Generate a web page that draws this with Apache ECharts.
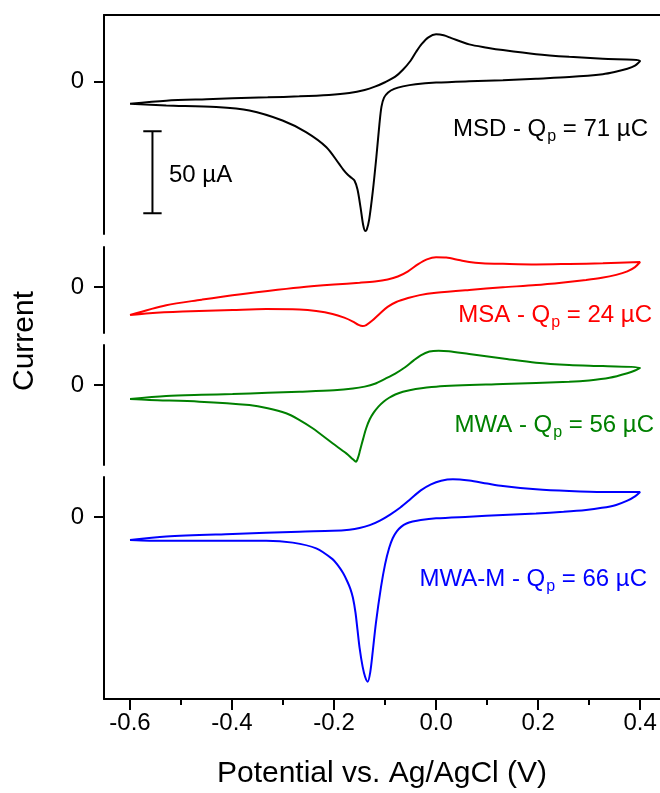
<!DOCTYPE html>
<html>
<head>
<meta charset="utf-8">
<style>
  html, body { margin: 0; padding: 0; background: #fff; }
  #chart { width: 660px; height: 793px; }
</style>
<script src="https://cdn.jsdelivr.net/npm/echarts@6/dist/echarts.min.js"></script>
</head>
<body>
<div id="chart"></div>
<script>
// potential (V) vs current (uA); forward = anodic sweep, reverse = cathodic sweep
const msdForward = [[-0.600, -13.7], [-0.529, -11.8], [-0.450, -10.9], [-0.399, -10.4], [-0.330, -9.8], [-0.268, -9.2],
  [-0.210, -8.3], [-0.170, -7.1], [-0.140, -5.3], [-0.120, -3.3], [-0.100, -0.6], [-0.080, 2.8], [-0.065, 7.0],
  [-0.050, 12.5], [-0.039, 18.0], [-0.028, 22.8], [-0.015, 26.8], [0.000, 28.6], [0.015, 28.0], [0.030, 26.3],
  [0.065, 22.5], [0.100, 20.5], [0.131, 19.0], [0.196, 16.5], [0.261, 14.9], [0.327, 13.7], [0.400, 12.4]]
const msdReverse = [[0.390, 9.5], [0.375, 7.6], [0.350, 5.6], [0.327, 4.3], [0.261, 2.6], [0.196, 1.6], [0.131, 0.6],
  [0.065, 0.0], [0.000, -0.8], [-0.040, -1.8], [-0.065, -3.1], [-0.082, -4.6], [-0.094, -6.8], [-0.102, -10.0],
  [-0.107, -15.5], [-0.111, -26.0], [-0.117, -46.0], [-0.124, -67.0], [-0.131, -84.0], [-0.136, -90.5],
  [-0.139, -91.3], [-0.143, -87.5], [-0.148, -77.0], [-0.154, -66.0], [-0.160, -60.5], [-0.166, -58.8],
  [-0.173, -57.0], [-0.182, -53.8], [-0.190, -50.4], [-0.215, -40.2], [-0.255, -31.0], [-0.301, -23.9],
  [-0.366, -17.8], [-0.431, -15.7], [-0.529, -14.7], [-0.600, -13.7]]

const msaForward = [[-0.600, -17.2], [-0.529, -11.2], [-0.460, -7.8], [-0.399, -5.0], [-0.330, -2.4], [-0.268, -0.3],
  [-0.200, 1.5], [-0.150, 2.6], [-0.120, 3.4], [-0.095, 4.6], [-0.075, 6.4], [-0.055, 9.6], [-0.035, 14.0],
  [-0.018, 16.9], [0.000, 18.2], [0.020, 18.0], [0.045, 16.5], [0.065, 15.3], [0.090, 14.6], [0.131, 14.2],
  [0.196, 13.8], [0.261, 14.1], [0.327, 14.5], [0.400, 15.3]]
const msaReverse = [[0.390, 12.2], [0.375, 9.6], [0.353, 7.4], [0.325, 5.6], [0.294, 4.3], [0.250, 2.8], [0.196, 1.2],
  [0.131, -0.2], [0.065, -1.8], [0.000, -3.6], [-0.032, -5.0], [-0.055, -6.8], [-0.078, -9.2], [-0.095, -12.2],
  [-0.110, -16.2], [-0.125, -20.6], [-0.137, -23.3], [-0.144, -23.9], [-0.152, -23.2], [-0.163, -21.2],
  [-0.180, -18.8], [-0.203, -16.5], [-0.235, -14.7], [-0.268, -13.8], [-0.333, -13.5], [-0.399, -14.1],
  [-0.497, -15.1], [-0.562, -16.1], [-0.600, -17.2]]

const mwaForward = [[-0.600, -8.6], [-0.529, -6.8], [-0.460, -6.0], [-0.399, -5.5], [-0.330, -4.8], [-0.268, -4.1],
  [-0.200, -3.2], [-0.163, -2.2], [-0.140, -1.0], [-0.120, 0.8], [-0.100, 3.8], [-0.080, 7.0], [-0.060, 11.0],
  [-0.045, 14.8], [-0.030, 18.2], [-0.013, 20.5], [0.005, 21.0], [0.025, 20.7], [0.065, 19.0], [0.131, 16.3],
  [0.196, 13.7], [0.261, 12.3], [0.327, 11.6], [0.400, 10.6]]
const mwaReverse = [[0.390, 8.9], [0.375, 7.2], [0.340, 4.4], [0.300, 2.8], [0.261, 2.0], [0.131, 0.6], [0.000, -1.0],
  [-0.040, -2.4], [-0.065, -4.1], [-0.080, -5.8], [-0.092, -7.8], [-0.103, -10.2], [-0.113, -13.2], [-0.122, -16.8],
  [-0.130, -21.0], [-0.137, -26.5], [-0.143, -33.0], [-0.149, -40.0], [-0.153, -44.5], [-0.157, -47.0],
  [-0.163, -45.5], [-0.176, -41.9], [-0.203, -35.7], [-0.242, -26.5], [-0.270, -21.0], [-0.294, -17.3],
  [-0.330, -14.2], [-0.366, -12.3], [-0.464, -10.2], [-0.562, -9.2], [-0.600, -8.6]]

const mwamForward = [[-0.600, -14.1], [-0.529, -12.0], [-0.399, -10.4], [-0.268, -9.0], [-0.203, -8.5], [-0.170, -7.8],
  [-0.150, -6.8], [-0.130, -5.0], [-0.110, -2.2], [-0.090, 1.5], [-0.070, 5.8], [-0.050, 11.0], [-0.030, 16.3],
  [-0.010, 20.0], [0.010, 22.2], [0.033, 23.1], [0.065, 22.3], [0.100, 20.5], [0.131, 19.0], [0.196, 17.0],
  [0.261, 15.9], [0.327, 15.3], [0.400, 15.3]]
const mwamReverse = [[0.390, 12.6], [0.375, 10.0], [0.353, 7.4], [0.325, 5.6], [0.294, 4.3], [0.250, 3.2], [0.196, 2.2],
  [0.131, 1.2], [0.065, 0.2], [0.000, -0.8], [-0.030, -1.8], [-0.046, -2.8], [-0.058, -4.0], [-0.068, -5.9],
  [-0.077, -8.8], [-0.085, -13.0], [-0.092, -19.0], [-0.100, -29.0], [-0.108, -43.0], [-0.118, -65.1],
  [-0.124, -82.0], [-0.129, -95.0], [-0.134, -100.9], [-0.139, -98.0], [-0.144, -91.7], [-0.150, -80.0],
  [-0.154, -69.2], [-0.158, -58.5], [-0.163, -49.5], [-0.168, -44.0], [-0.174, -39.5], [-0.182, -34.5],
  [-0.192, -29.8], [-0.203, -25.8], [-0.235, -19.2], [-0.281, -15.7], [-0.333, -14.5], [-0.464, -14.5],
  [-0.562, -14.5], [-0.600, -14.1]]

// 50 uA scale bar (caps + stem), in data units of the top panel
const scaleBar = [[-0.574, -30.5], [-0.538, -30.5], [-0.556, -30.5], [-0.556, -80.5], [-0.574, -80.5], [-0.538, -80.5]]

const sampleNames = ['MSD', 'MSA', 'MWA', 'MWA-M']
const chargeValues = [71, 24, 56, 66]
const currentRanges = [[-93.1, 40.4], [-28.2, 24.5], [-49.0, 24.5], [-111.5, 24.5]]
const xMajorTicks = [-0.6, -0.4, -0.2, 0, 0.2, 0.4]
const xMinorTicks = [-0.5, -0.3, -0.1, 0.1, 0.3]
const xRange = [-0.651, 0.439]

const FONT = '"Liberation Sans", Arial, sans-serif'
const colors = ['#000000', '#ff0000', '#008000', '#0000ff']
const curves = [
  msdForward.concat(msdReverse),
  msaForward.concat(msaReverse),
  mwaForward.concat(mwaReverse),
  mwamForward.concat(mwamReverse)
]

// panel boxes (px)
const grids = [
  { left: 104, right: 0, top: 15, height: 219 },
  { left: 104, right: 0, top: 247, height: 86 },
  { left: 104, right: 0, top: 345, height: 120 },
  { left: 104, right: 0, top: 477, height: 222 }
]
// where each annotation sits (right edge x, text middle y)
const labelPos = [[648, 129], [652, 315], [654, 425], [647, 579]]

const axisLine = { show: true, onZero: false, lineStyle: { color: '#000', width: 2 } }

const xAxes = grids.map((g, i) => ({
  type: 'value', gridIndex: i, min: xRange[0], max: xRange[1],
  show: i === 0, position: i === 0 ? 'top' : 'bottom',
  axisLine: axisLine, axisTick: { show: false }, axisLabel: { show: false }, splitLine: { show: false }
}))
// bottom axis: major ticks with labels
xAxes[3] = {
  type: 'value', gridIndex: 3, min: xRange[0], max: xRange[1], position: 'bottom',
  axisLine: axisLine,
  axisTick: { show: true, inside: false, length: 11, customValues: xMajorTicks, lineStyle: { color: '#000', width: 2 } },
  axisLabel: {
    show: true, customValues: xMajorTicks, margin: 12, color: '#000', fontSize: 24, fontFamily: FONT,
    formatter: v => v.toFixed(1)
  },
  splitLine: { show: false },
  name: 'Potential vs. Ag/AgCl (V)', nameLocation: 'middle', nameGap: 60,
  nameTextStyle: { color: '#000', fontSize: 30, fontFamily: FONT }
}
// minor ticks
xAxes.push({
  type: 'value', gridIndex: 3, min: xRange[0], max: xRange[1], position: 'bottom',
  axisLine: { show: false, onZero: false },
  axisTick: { show: true, length: 6, customValues: xMinorTicks, lineStyle: { color: '#000', width: 2 } },
  axisLabel: { show: false }, splitLine: { show: false }
})

const yAxes = grids.map((g, i) => ({
  type: 'value', gridIndex: i, min: currentRanges[i][0], max: currentRanges[i][1],
  axisLine: axisLine,
  axisTick: { show: true, length: 10, customValues: [0], lineStyle: { color: '#000', width: 2 } },
  axisLabel: { show: true, customValues: [0], margin: 20, color: '#000', fontSize: 24, fontFamily: FONT },
  splitLine: { show: false }
}))

const series = curves.map((data, i) => ({
  type: 'line', xAxisIndex: i, yAxisIndex: i, data: data,
  showSymbol: false, smooth: 0.3, animation: false,
  lineStyle: { color: colors[i], width: 2 }
}))
series.push({
  type: 'line', xAxisIndex: 0, yAxisIndex: 0, data: scaleBar,
  showSymbol: false, animation: false,
  lineStyle: { color: '#000', width: 2 }
})

const graphic = sampleNames.map((name, i) => ({
  type: 'text', x: labelPos[i][0], y: labelPos[i][1],
  style: {
    text: `{n|${name} - Q}{s|p}{n| = ${chargeValues[i]} µC}`,
    align: 'right', verticalAlign: 'middle', textAlign: 'right', textVerticalAlign: 'middle',
    rich: {
      n: { fontSize: 24, fontFamily: FONT, fill: colors[i] },
      s: { fontSize: 16, fontFamily: FONT, fill: colors[i], padding: [16, 0, 0, 1] }
    }
  }
}))
graphic.push({
  type: 'text', x: 169, y: 175,
  style: { text: '50 µA', fontSize: 24, fontFamily: FONT, fill: '#000', align: 'left', verticalAlign: 'middle',
    textAlign: 'left', textVerticalAlign: 'middle' }
})
graphic.push({
  type: 'text', x: 25, y: 341, rotation: Math.PI / 2,
  style: { text: 'Current', fontSize: 30, fontFamily: FONT, fill: '#000', align: 'center', verticalAlign: 'middle',
    textAlign: 'center', textVerticalAlign: 'middle' }
})

const chart = echarts.init(document.getElementById('chart'), null, { renderer: 'canvas' })
chart.setOption({
  backgroundColor: '#fff',
  animation: false,
  grid: grids,
  xAxis: xAxes,
  yAxis: yAxes,
  series: series,
  graphic: graphic
})
</script>
</body>
</html>
